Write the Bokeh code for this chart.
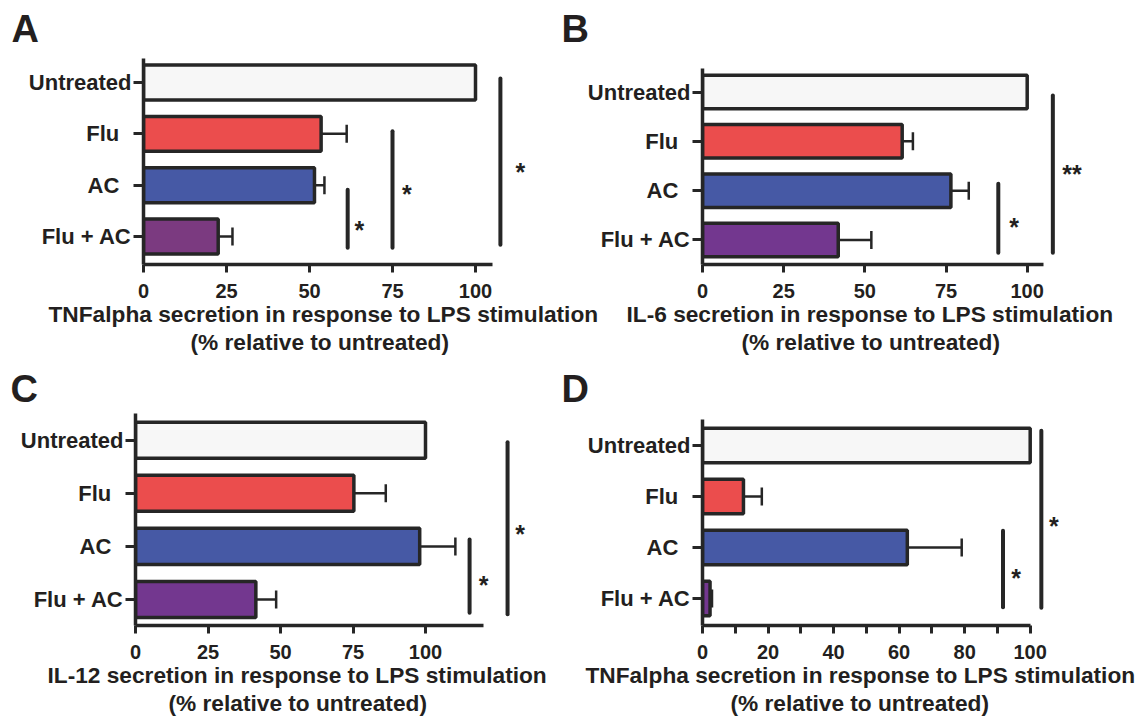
from bokeh.plotting import figure
from bokeh.models import Range1d, FixedTicker, Whisker, TeeHead, ColumnDataSource, Title
from bokeh.layouts import row, column
from bokeh.embed import file_html
from bokeh.resources import INLINE
from bokeh.core.properties import value

# ---------------- data ----------------
categories = ["Untreated", "Flu", "AC", "Flu + AC"]
# tick texts as printed (GraphPad pads the short names with trailing blanks)
category_labels = ["Untreated", "Flu\u00a0\u00a0", "AC\u00a0\u00a0", "Flu + AC"]
positions = [4, 3, 2, 1]

colors_a = ["#f7f7f7", "#eb4d4d", "#4659a5", "#7b3a80"]
colors_bcd = ["#f7f7f7", "#eb4d4d", "#4659a5", "#73378f"]

a_values = [100, 53.5, 51.5, 22.5]
a_errors = [0, 7.7, 3.0, 4.3]
b_values = [100, 61.5, 76.5, 41.8]
b_errors = [0, 3.3, 5.5, 10.2]
c_values = [100, 75.3, 98.0, 41.5]
c_errors = [0, 11.0, 12.3, 7.0]
d_values = [100, 12.5, 62.5, 2.3]
d_errors = [0, 5.6, 16.6, 0.6]

ticks_abc = [0, 25, 50, 75, 100]
ticks_d = [0, 20, 40, 60, 80, 100]
minor_d = [10, 30, 50, 70, 90]

label_a = ["TNFalpha secretion in response to LPS stimulation", "(% relative to untreated)"]
label_b = ["IL-6 secretion in response to LPS stimulation", "(% relative to untreated)"]
label_c = ["IL-12 secretion in response to LPS stimulation", "(% relative to untreated)"]
label_d = ["TNFalpha secretion in response to LPS stimulation", "(% relative to untreated)"]

# significance brackets (x, y bottom, y top) and stars (x, y, text)
a_sig_x = [61.5, 75.0, 107.5]
a_sig_y0 = [0.78, 0.78, 0.84]
a_sig_y1 = [1.91, 3.05, 4.08]
a_star_x = [65.0, 79.3, 113.5]
a_star_y = [1.21, 1.90, 2.34]
a_stars = ["*", "*", "*"]

b_sig_x = [91.1, 107.9]
b_sig_y0 = [0.74, 0.74]
b_sig_y1 = [2.14, 3.93]
b_star_x = [96.0, 113.8]
b_star_y = [1.35, 2.41]
b_stars = ["*", "**"]

c_sig_x = [115.2, 128.3]
c_sig_y0 = [0.75, 0.72]
c_sig_y1 = [2.13, 3.96]
c_star_x = [120.0, 132.6]
c_star_y = [1.35, 2.30]
c_stars = ["*", "*"]

d_sig_x = [91.7, 103.4]
d_sig_y0 = [0.83, 0.82]
d_sig_y1 = [2.33, 4.29]
d_star_x = [95.7, 107.2]
d_star_y = [1.48, 2.50]
d_stars = ["*", "*"]

# ---------------- style ----------------
FONT = "Liberation Sans"
TXT = "#231f20"
INK = "#262626"


def make_panel(W, H, L, T, Bb, ppu, y_start, y_end, y_top, vals, errs, colors, ticks, minor,
               axis_end, xlabel, xlabel_offsets, letter, letter_offset, letter_standoff,
               sig_x, sig_y0, sig_y1, star_x, star_y, stars):
    R = 4
    frame_w = W - L - R
    p = figure(width=W, height=H,
               x_range=Range1d(0, frame_w / ppu),
               y_range=Range1d(y_start, y_end),
               output_backend="svg", toolbar_location=None,
               min_border_left=L, min_border_right=R, min_border_top=T, min_border_bottom=Bb)
    p.outline_line_color = None
    p.background_fill_color = None
    p.border_fill_color = None
    p.xgrid.visible = False
    p.ygrid.visible = False

    # panel letter
    p.title.text = letter
    p.title.align = "left"
    p.title.offset = letter_offset
    p.title.standoff = letter_standoff
    p.title.vertical_align = "top"
    p.title.text_font = FONT
    p.title.text_font_style = "bold"
    p.title.text_font_size = "38px"
    p.title.text_color = TXT

    # error bars
    src_err = ColumnDataSource(dict(
        pos=[y for y, e in zip(positions, errs) if e > 0],
        lo=[v for v, e in zip(vals, errs) if e > 0],
        hi=[v + e for v, e in zip(vals, errs) if e > 0]))
    w = Whisker(source=src_err, base="pos", lower="lo", upper="hi", dimension="width",
                line_color=INK, line_width=2.5,
                lower_head=None,
                upper_head=TeeHead(size=18, line_color=INK, line_width=2.5))
    p.add_layout(w)

    # bars
    src = ColumnDataSource(dict(pos=positions, val=vals, col=colors))
    p.hbar(y="pos", left=0, right="val", height=0.68, fill_color="col",
           line_color=INK, line_width=3.5, source=src)

    # significance lines and stars
    p.segment(x0=sig_x, x1=sig_x, y0=sig_y0, y1=sig_y1, line_color=INK,
              line_width=4, line_cap="round")
    p.text(x=star_x, y=star_y, text=stars, text_align="center", text_baseline="alphabetic",
           y_offset=4, text_font=value(FONT), text_font_style="bold",
           text_font_size=value("25px"), text_color=TXT)

    # axes
    xa = p.xaxis[0]
    xa.ticker = FixedTicker(ticks=ticks, minor_ticks=minor)
    xa.bounds = (0, axis_end)
    xa.axis_line_width = 3.5
    xa.axis_line_color = INK
    xa.major_tick_line_width = 3
    xa.major_tick_line_color = INK
    xa.major_tick_out = 8
    xa.major_tick_in = 0
    xa.minor_tick_line_width = 3
    xa.minor_tick_line_color = INK
    xa.minor_tick_out = 8
    xa.minor_tick_in = 0
    xa.major_label_standoff = 11
    xa.major_label_text_font = FONT
    xa.major_label_text_font_style = "bold"
    xa.major_label_text_font_size = "20px"
    xa.major_label_text_color = TXT

    for txt, off in zip(xlabel, xlabel_offsets):
        t = Title(text=txt, align="left", offset=off, standoff=0, vertical_align="top",
                  text_font=FONT, text_font_style="bold", text_font_size="22.7px",
                  text_color=TXT)
        p.add_layout(t, "below")

    ya = p.yaxis[0]
    ya.ticker = FixedTicker(ticks=positions, minor_ticks=[])
    ya.major_label_overrides = dict(zip(positions, category_labels))
    ya.bounds = (y_start, y_top)
    ya.axis_line_width = 3.5
    ya.axis_line_color = INK
    ya.major_tick_line_width = 3
    ya.major_tick_line_color = INK
    ya.major_tick_out = 10
    ya.major_tick_in = 0
    ya.major_label_standoff = 2
    ya.major_label_text_font = FONT
    ya.major_label_text_font_style = "bold"
    ya.major_label_text_font_size = "22px"
    ya.major_label_text_color = TXT
    return p


pa = make_panel(600, 360, 143, 56, 96, 3.32, 0.455, 4.507, 4.47,
                a_values, a_errors, colors_a, ticks_abc, [], 105,
                label_a, [-95, 47], "A", -132, 9,
                a_sig_x, a_sig_y0, a_sig_y1, a_star_x, a_star_y, a_stars)
pb = make_panel(587, 360, 142, 56, 96, 3.247, 0.503, 4.72, 4.476,
                b_values, b_errors, colors_bcd, ticks_abc, [], 105,
                label_b, [-76, 39], "B", -141, 9,
                b_sig_x, b_sig_y0, b_sig_y1, b_star_x, b_star_y, b_stars)
pc = make_panel(560, 359, 135, 53, 94, 2.9, 0.51, 4.503, 4.503,
                c_values, c_errors, colors_bcd, ticks_abc, [], 120,
                label_c, [-88, 33], "C", -125, 3,
                c_sig_x, c_sig_y0, c_sig_y1, c_star_x, c_star_y, c_stars)
pd = make_panel(587, 359, 142, 53, 94, 3.277, 0.47, 4.627, 4.504,
                d_values, d_errors, colors_bcd, ticks_d, minor_d, 100,
                label_d, [-117, 28], "D", -141, 3,
                d_sig_x, d_sig_y0, d_sig_y1, d_star_x, d_star_y, d_stars)

pb.margin = (0, 0, 0, -40)

layout = column(row(pa, pb), row(pc, pd))
open("out.html", "w").write(file_html(layout, INLINE))
